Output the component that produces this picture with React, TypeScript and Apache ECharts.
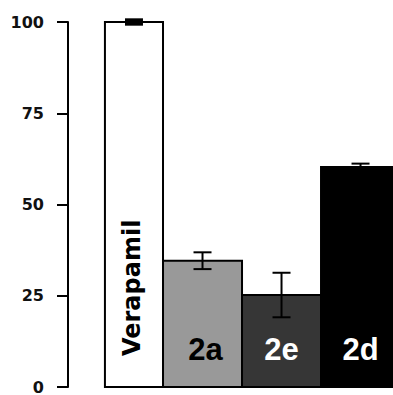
import React, { useEffect, useRef } from "react";
import * as echarts from "echarts";

const categories = ["Verapamil", "2a", "2e", "2d"];
const values = [100, 34.6, 25.2, 60.3];
const errors = [0.6, 2.3, 6.1, 0.9];
const yTicks = [0, 25, 50, 75, 100];

const fills = ["#ffffff", "#999999", "#363636", "#000000"];
const labelColors = ["#000000", "#000000", "#ffffff", "#ffffff"];

export default function App() {
  const ref = useRef<HTMLDivElement>(null);
  useEffect(() => {
    if (!ref.current) return;
    const chart = echarts.init(ref.current, null, { renderer: "svg" });
    const data = categories.map((c, i) => [i, values[i], errors[i]]);
    chart.setOption({
      animation: false,
      grid: { left: 84, right: 0, top: 22, bottom: 7, containLabel: false },
      xAxis: {
        type: "value",
        min: -0.5,
        max: 3.411,
        show: false,
        splitLine: { show: false },
      },
      yAxis: {
        type: "value",
        min: yTicks[0],
        max: yTicks[yTicks.length - 1],
        interval: 25,
        offset: 16,
        splitLine: { show: false },
        axisLine: { show: true, onZero: false, lineStyle: { color: "#000", width: 2 } },
        axisTick: { show: true, length: 11, lineStyle: { color: "#000", width: 2 } },
        axisLabel: {
          margin: 24,
          color: "#111",
          fontSize: 16,
          fontWeight: "bold",
          fontFamily: "DejaVu Sans",
        },
      },
      series: [
        {
          type: "custom",
          data,
          clip: false,
          renderItem: (params: any, api: any) => {
            const i = api.value(0);
            const v = api.value(1);
            const e = api.value(2);
            const top = api.coord([i, v]);
            const base = api.coord([i, 0]);
            const band = api.size([1, 0])[0];
            const right = top[0] + band / 2;
            const w = i === 0 ? band * 0.735 : band;
            const left = right - w;
            const cx = (left + right) / 2;
            const hi = api.coord([i, v + e]);
            const lo = api.coord([i, v - e]);
            const capW = 18;
            const capLW = i === 0 ? 3 : 2;
            const children: any[] = [
              {
                type: "rect",
                shape: { x: left, y: top[1], width: w, height: base[1] - top[1] },
                style: { fill: fills[i], stroke: "#000", lineWidth: 2 },
              },
              {
                type: "line",
                shape: { x1: cx, y1: hi[1], x2: cx, y2: lo[1] },
                style: { stroke: "#000", lineWidth: 2 },
              },
              {
                type: "line",
                shape: { x1: cx - capW / 2, y1: hi[1], x2: cx + capW / 2, y2: hi[1] },
                style: { stroke: "#000", lineWidth: capLW },
              },
              {
                type: "line",
                shape: { x1: cx - capW / 2, y1: lo[1], x2: cx + capW / 2, y2: lo[1] },
                style: { stroke: "#000", lineWidth: capLW },
              },
            ];
            if (i === 0) {
              children.push({
                type: "text",
                x: cx - 2,
                y: base[1] - 31,
                rotation: Math.PI / 2,
                style: {
                  text: categories[i],
                  fill: labelColors[i],
                  font: 'bold 24px "DejaVu Sans"',
                  align: "left",
                  verticalAlign: "middle",
                },
              });
            } else {
              children.push({
                type: "text",
                x: cx + (i === 1 ? 3 : 0),
                y: base[1] - 38,
                style: {
                  text: categories[i],
                  fill: labelColors[i],
                  font: 'bold 31px "Liberation Sans"',
                  align: "center",
                  verticalAlign: "middle",
                },
              });
            }
            return { type: "group", children };
          },
        },
      ],
    });
    return () => chart.dispose();
  }, []);
  return (
    <div
      ref={ref}
      style={{ position: "fixed", left: 0, top: 0, width: 393, height: 395, background: "#fff" }}
    />
  );
}
